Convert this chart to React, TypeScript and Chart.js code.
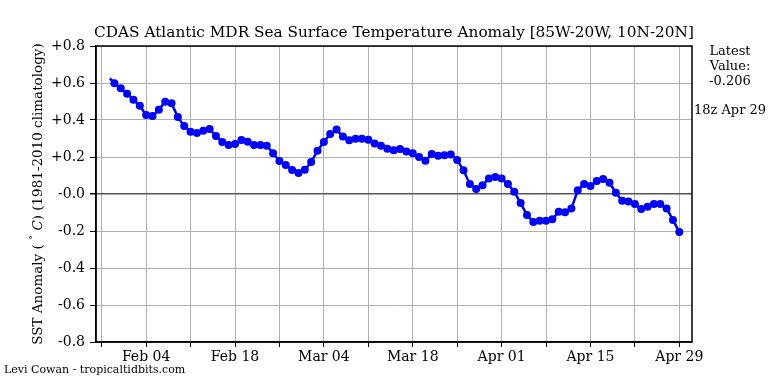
import React, { useEffect, useRef } from 'react';
import { Chart, registerables } from 'chart.js';

Chart.register(...registerables);

const titleText = 'CDAS Atlantic MDR Sea Surface Temperature Anomaly [85W-20W, 10N-20N]';
// y-axis label pieces: [text, style] (style: n = normal, s = superscript, i = italic)
const yAxisLabelParts: [string, string][] = [
  ['SST Anomaly ( ', 'n'],
  ['\u00B0', 's'],
  [' ', 'n'],
  ['C', 'i'],
  [') (1981-2010 climatology)', 'n'],
];
const latestLines = ['Latest', 'Value:', '-0.206'];
const latestTime = '18z Apr 29';
const creditText = 'Levi Cowan - tropicaltidbits.com';

// day-of-year of first marker (Jan 30)
const firstDay = 30;
// start of drawn line (before first marker)
const leadDay = 29.3;
const leadValue = 0.625;

const anomalies = [
  0.598, 0.571, 0.542, 0.51, 0.477, 0.427, 0.421, 0.456, 0.499, 0.49,
  0.416, 0.367, 0.337, 0.33, 0.342, 0.351, 0.313, 0.281, 0.265, 0.27,
  0.292, 0.283, 0.265, 0.265, 0.261, 0.22, 0.178, 0.157, 0.13, 0.113,
  0.131, 0.173, 0.234, 0.281, 0.324, 0.348, 0.311, 0.29, 0.299, 0.299,
  0.293, 0.273, 0.261, 0.245, 0.236, 0.243, 0.23, 0.22, 0.2, 0.18,
  0.216, 0.207, 0.209, 0.214, 0.184, 0.128, 0.054, 0.027, 0.047, 0.084,
  0.092, 0.084, 0.054, 0.012, -0.049, -0.114, -0.151, -0.144, -0.144, -0.137,
  -0.096, -0.099, -0.079, 0.02, 0.054, 0.043, 0.07, 0.081, 0.061, 0.007,
  -0.036, -0.041, -0.054, -0.081, -0.069, -0.054, -0.054, -0.078, -0.14, -0.206,
];

const xTickDays = [28, 35, 42, 49, 56, 63, 70, 77, 84, 91, 98, 105, 112, 119];
const xTickLabels = ['', 'Feb 04', '', 'Feb 18', '', 'Mar 04', '', 'Mar 18', '', 'Apr 01', '', 'Apr 15', '', 'Apr 29'];
const xMin = 27.1;
const xMax = 121;
const yMin = -0.8;
const yMax = 0.8;
const yStep = 0.2;

const FONT = '"DejaVu Serif", serif';

const textPlugin = {
  id: 'textPlugin',
  afterDraw(chart: any) {
    const { ctx, chartArea } = chart;
    ctx.save();
    // frame
    ctx.strokeStyle = '#000';
    ctx.lineWidth = 1.5;
    ctx.strokeRect(chartArea.left, chartArea.top, chartArea.right - chartArea.left, chartArea.bottom - chartArea.top);

    ctx.fillStyle = '#000';
    ctx.textBaseline = 'middle';
    ctx.textAlign = 'center';
    ctx.font = `15.3px ${FONT}`;
    ctx.fillText(titleText, (chartArea.left + chartArea.right) / 2, 33);

    // rotated y-axis label with mixed styles
    ctx.save();
    ctx.translate(37, (chartArea.top + chartArea.bottom) / 2);
    ctx.rotate(-Math.PI / 2);
    const fontFor = (st: string) =>
      st === 'i' ? `italic 13.5px ${FONT}` : st === 's' ? `10px ${FONT}` : `13.5px ${FONT}`;
    let total = 0;
    const widths = yAxisLabelParts.map(([t, st]) => {
      ctx.font = fontFor(st);
      const w = ctx.measureText(t).width;
      total += w;
      return w;
    });
    let cx = -total / 2;
    ctx.textAlign = 'left';
    ctx.textBaseline = 'alphabetic';
    yAxisLabelParts.forEach(([t, st], i) => {
      ctx.font = fontFor(st);
      ctx.fillText(t, cx, st === 's' ? -1 : 5);
      cx += widths[i];
    });
    ctx.restore();

    ctx.textAlign = 'center';
    ctx.textBaseline = 'middle';
    ctx.font = `13px ${FONT}`;
    latestLines.forEach((t, i) => ctx.fillText(t, 730, 52 + i * 15));
    ctx.fillText(latestTime, 730, 111);

    ctx.textAlign = 'left';
    ctx.font = `11px ${FONT}`;
    ctx.fillText(creditText, 4, 370);
    ctx.restore();
  },
};

export default function App() {
  const ref = useRef<HTMLCanvasElement>(null);
  useEffect(() => {
    document.body.style.margin = '0';
    const points = [
      { x: leadDay, y: leadValue },
      ...anomalies.map((v, i) => ({ x: firstDay + i, y: v })),
    ];
    const fmtY = (v: number) => {
      if (Math.abs(v) < 1e-9) return '-0.0';
      return v > 0 ? '+' + v.toFixed(1) : v.toFixed(1);
    };
    const chart = new Chart(ref.current!, {
      type: 'line',
      data: {
        datasets: [
          {
            data: points,
            borderColor: '#0000ff',
            backgroundColor: '#0000ff',
            borderWidth: 2.5,
            pointRadius: (c: any) => (c.dataIndex === 0 ? 0 : 4),
            pointBorderWidth: 0,
            tension: 0,
          },
        ],
      },
      options: {
        animation: false,
        responsive: false,
        devicePixelRatio: 1,
        layout: { padding: { left: 0, top: 46, right: 76, bottom: 0 } },
        plugins: { legend: { display: false }, tooltip: { enabled: false }, title: { display: false } },
        scales: {
          x: {
            type: 'linear',
            min: xMin,
            max: xMax,
            afterFit: (s: any) => { s.height = 42; },
            afterBuildTicks: (s: any) => { s.ticks = xTickDays.map((v) => ({ value: v })); },
            ticks: {
              autoSkip: false,
              maxRotation: 0,
              padding: 2,
              color: '#000',
              font: { family: FONT, size: 14 },
              callback: (v: any) => {
                const i = xTickDays.indexOf(Number(v));
                return i >= 0 ? xTickLabels[i] : '';
              },
            },
            grid: { color: '#b0b0b0', lineWidth: 1, tickLength: 5, tickColor: '#000' },
            border: { display: true, color: '#000', width: 1.5 },
          },
          y: {
            min: yMin,
            max: yMax,
            afterFit: (s: any) => { s.width = 96; },
            ticks: {
              stepSize: yStep,
              padding: 5,
              color: '#000',
              font: { family: FONT, size: 14 },
              callback: (v: any) => fmtY(Number(v)),
            },
            grid: {
              color: (c: any) => (c.tick && Math.abs(c.tick.value) < 1e-9 ? '#555555' : '#b0b0b0'),
              lineWidth: (c: any) => (c.tick && Math.abs(c.tick.value) < 1e-9 ? 1.5 : 1),
              tickLength: 6,
              tickColor: '#000',
            },
            border: { display: true, color: '#000', width: 1.5 },
          },
        },
      },
      plugins: [textPlugin],
    } as any);
    return () => chart.destroy();
  }, []);
  return (
    <div style={{ width: 768, height: 384 }}>
      <canvas ref={ref} width={768} height={384} />
    </div>
  );
}
